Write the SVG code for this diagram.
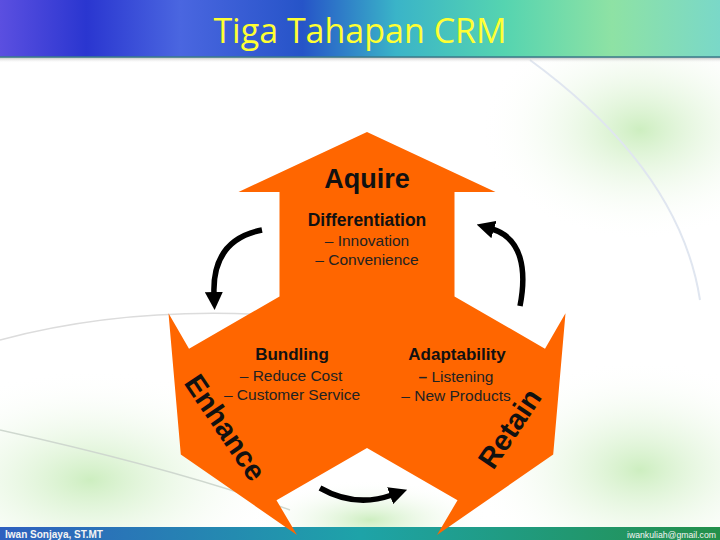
<svg xmlns="http://www.w3.org/2000/svg" width="720" height="540" viewBox="0 0 720 540">
<defs>
<style>
.h{font-family:"Liberation Sans",Arial,sans-serif;font-weight:bold;fill:#111;text-anchor:middle}
.s{font-family:"Liberation Sans",Arial,sans-serif;fill:#222;text-anchor:middle;font-size:15.5px}
.big{font-family:"Liberation Sans",Arial,sans-serif;font-weight:bold;fill:#111;text-anchor:middle;font-size:29px}
.con{fill:none;stroke:#000;stroke-width:5.5;marker-end:url(#ah)}
</style>
<linearGradient id="hdr" x1="0" y1="0" x2="1" y2="0">
<stop offset="0" stop-color="#5b4fe0"/>
<stop offset="0.12" stop-color="#2a36d0"/>
<stop offset="0.25" stop-color="#4a66e0"/>
<stop offset="0.42" stop-color="#2654c8"/>
<stop offset="0.55" stop-color="#3ab4c8"/>
<stop offset="0.7" stop-color="#55d4b0"/>
<stop offset="0.85" stop-color="#8ee2a4"/>
<stop offset="1" stop-color="#7ad8c8"/>
</linearGradient>
<linearGradient id="ftr" x1="0" y1="0" x2="1" y2="0">
<stop offset="0" stop-color="#2f5fbf"/>
<stop offset="0.5" stop-color="#1ea3a8"/>
<stop offset="1" stop-color="#23904a"/>
</linearGradient>
<linearGradient id="shd" x1="0" y1="0" x2="0" y2="1">
<stop offset="0" stop-color="#888" stop-opacity="0.6"/>
<stop offset="1" stop-color="#fff" stop-opacity="0"/>
</linearGradient>
<radialGradient id="g1" cx="0.5" cy="0.5" r="0.5">
<stop offset="0" stop-color="#cdeec0"/>
<stop offset="1" stop-color="#ffffff" stop-opacity="0"/>
</radialGradient>
<marker id="ah" viewBox="0 0 18 18" refX="2" refY="9" markerWidth="18" markerHeight="18" orient="auto" markerUnits="userSpaceOnUse">
<path d="M0,0 L18,9 L0,18 Z" fill="#000"/>
</marker>
</defs>
<rect width="720" height="540" fill="#ffffff"/>
<ellipse cx="90" cy="480" rx="200" ry="110" fill="url(#g1)"/>
<ellipse cx="640" cy="130" rx="160" ry="110" fill="url(#g1)"/>
<ellipse cx="640" cy="470" rx="170" ry="110" fill="url(#g1)"/>
<ellipse cx="370" cy="520" rx="120" ry="40" fill="url(#g1)"/>
<path d="M0,340 Q150,300 330,320" fill="none" stroke="#dcdcdc" stroke-width="1.5"/>
<path d="M0,430 Q180,470 290,510" fill="none" stroke="#cfd8cf" stroke-width="1.5"/>
<path d="M530,60 Q680,170 700,300" fill="none" stroke="#e0e6f0" stroke-width="2"/>
<rect x="0" y="0" width="720" height="57" fill="url(#hdr)"/>
<rect x="0" y="57" width="720" height="6" fill="url(#shd)"/>
<line x1="0" y1="57" x2="720" y2="57" stroke="#3a7a8a" stroke-width="1.5"/>
<text x="360" y="43" font-family="'Open Sans','Noto Sans',sans-serif" font-size="34" fill="#ffff33" text-anchor="middle">Tiga Tahapan CRM</text>
<rect x="0" y="527" width="720" height="13" fill="url(#ftr)"/>
<text x="5" y="537.5" font-family="'Liberation Sans',Arial,sans-serif" font-weight="bold" font-size="10" fill="#f4f4f4" textLength="98" lengthAdjust="spacingAndGlyphs">Iwan Sonjaya, ST.MT</text>
<text x="716" y="537.5" font-family="'Liberation Sans',Arial,sans-serif" font-size="9" fill="#f4f4f4" text-anchor="end" textLength="89" lengthAdjust="spacingAndGlyphs">iwankuliah@gmail.com</text>
<g id="three-way-arrow">
<path d="M367,132 L495.5,192 L454.5,192 L454.5,296.5 L545,348.7 L565.5,313.2 L553.2,454.5 L437,535 L457.5,500.3 L367,448 L276.5,500.3 L297,535 L180.8,454.5 L168.5,313.2 L189,348.7 L279.5,296.5 L279.5,192 L238.5,192 Z" fill="#ff6600"/>
</g>
<g id="aquire">
<text class="h" x="367" y="188" font-size="27">Aquire</text>
<text class="h" x="367" y="226" font-size="17.5">Differentiation</text>
<text class="s" x="367" y="246">– Innovation</text>
<text class="s" x="367" y="265">– Convenience</text>
</g>
<g id="enhance">
<text class="h" x="292" y="360" font-size="17">Bundling</text>
<text class="s" x="291" y="381">– Reduce Cost</text>
<text class="s" x="292" y="400">– Customer Service</text>
<text class="big" x="217" y="433" transform="rotate(56 217 433)">Enhance</text>
</g>
<g id="retain">
<text class="h" x="457" y="360" font-size="17">Adaptability</text>
<text class="s" x="456" y="382"><tspan font-weight="bold">–</tspan> Listening</text>
<text class="s" x="456" y="401">– New Products</text>
<text class="big" x="518" y="434" transform="rotate(-56 518 434)">Retain</text>
</g>
<g id="connectors">
<path class="con" d="M262,230 Q212,240 214,294"/>
<path class="con" d="M520,306 C527,270 522,238 492,229"/>
<path class="con" d="M320,488 Q355,508 392,495"/>
</g>
</svg>
